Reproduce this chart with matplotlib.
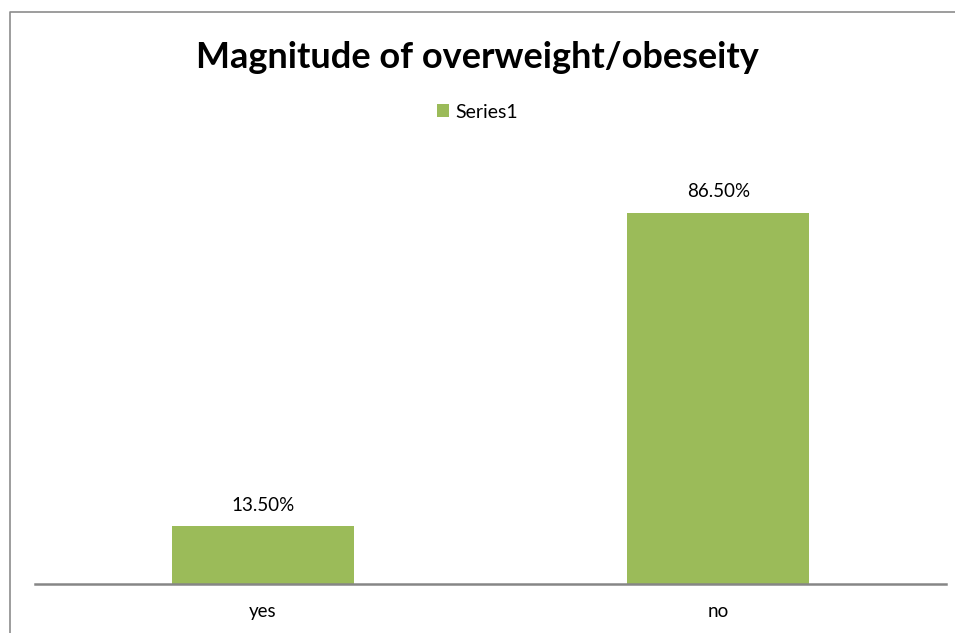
import matplotlib.pyplot as plt
from matplotlib.lines import Line2D

categories = ['yes', 'no']
values = [13.5, 86.5]
value_labels = ['13.50%', '86.50%']
series_name = 'Series1'
title = 'Magnitude of overweight/obeseity'

plt.rcParams['font.family'] = ['Lato', 'DejaVu Sans']

W, H = 955, 633
fig = plt.figure(figsize=(W / 100, H / 100), dpi=100)

# outer chart frame: only its left and top edges fall inside the picture
fx, fy = 10 / W, 1 - 12 / H
fig.add_artist(Line2D([fx, fx, 1.0], [0.0, fy, fy], transform=fig.transFigure,
                      color='#8c8c8c', linewidth=1.2))

ax = fig.add_axes([35 / W, 1 - 584 / H, (946 - 35) / W, (584 - 155) / H])
x = range(len(categories))
bars = ax.bar(x, values, width=0.4, color='#9BBB59', label=series_name)
ax.set_xlim(-0.5, 1.5)
ax.set_ylim(0, 100)

for b, lab in zip(bars, value_labels):
    ax.annotate(lab, (b.get_x() + b.get_width() / 2, b.get_height()),
                xytext=(0, 9), textcoords='offset points', ha='center', va='bottom', fontsize=13.5)

ax.set_xticks(list(x))
ax.set_xticklabels(categories, fontsize=13.5)
ax.tick_params(axis='x', length=0, pad=14)
ax.set_yticks([])
for s in ['top', 'right', 'left']:
    ax.spines[s].set_visible(False)
ax.spines['bottom'].set_color('#868686')
ax.spines['bottom'].set_linewidth(1.8)

fig.text(0.5, 1 - 57 / H, title, ha='center', va='center', fontsize=26, fontweight='bold')
fig.legend(handles=[bars], labels=[series_name], loc='center', bbox_to_anchor=(0.5, 1 - 112 / H),
           frameon=False, fontsize=14, handlelength=0.6, handleheight=0.6, handletextpad=0.3)

fig.savefig('out.png', dpi=100)
